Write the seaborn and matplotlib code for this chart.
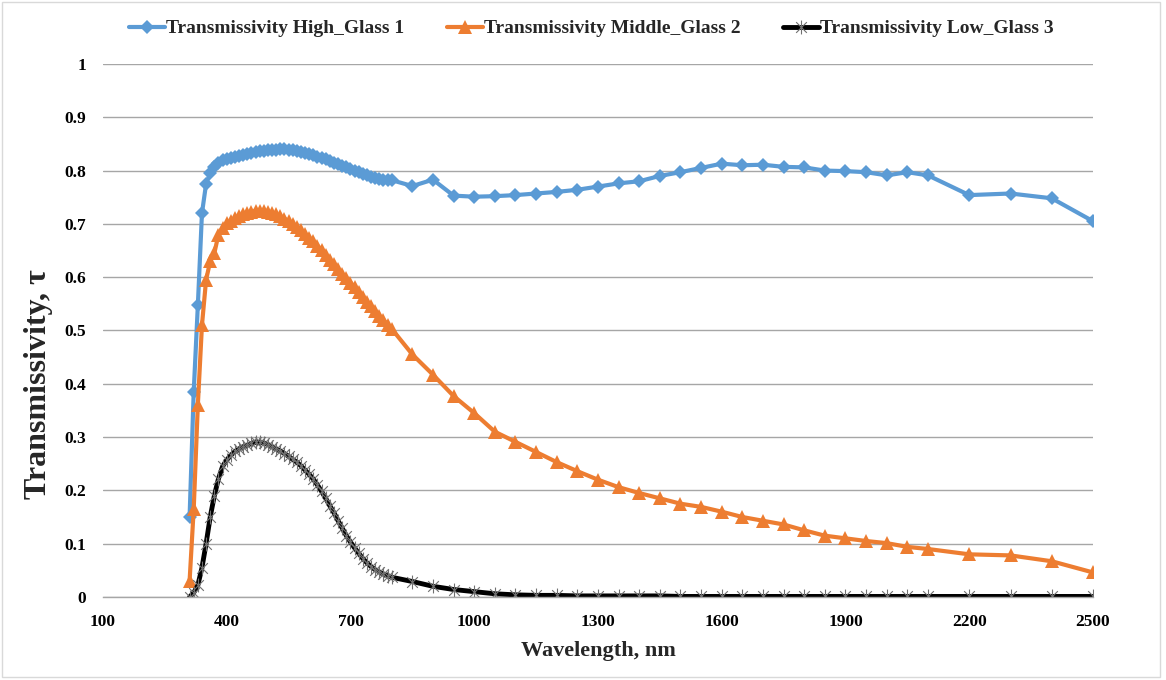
import matplotlib
matplotlib.use("Agg")
import matplotlib.pyplot as plt
from matplotlib.path import Path
from matplotlib.patches import Rectangle
import seaborn as sns
import pandas as pd

# Wavelength sampling (nm)
wavelength = [
    310, 320, 330, 340, 350, 360, 370, 380, 390, 400,
    410, 420, 430, 440, 450, 460, 470, 480, 490, 500,
    510, 520, 530, 540, 550, 560, 570, 580, 590, 600,
    610, 620, 630, 640, 650, 660, 670, 680, 690, 700,
    710, 720, 730, 740, 750, 760, 770, 780, 790, 800,
    850, 900, 950, 1000, 1050, 1100, 1150, 1200, 1250, 1300,
    1350, 1400, 1450, 1500, 1550, 1600, 1650, 1700, 1750, 1800,
    1850, 1900, 1950, 2000, 2050, 2100, 2200, 2300, 2400, 2500,
]

tau_high = [
    0.150, 0.385, 0.547, 0.720, 0.775, 0.795, 0.806, 0.815, 0.820, 0.822,
    0.823, 0.825, 0.827, 0.829, 0.831, 0.833, 0.835, 0.836, 0.837, 0.838,
    0.839, 0.839, 0.840, 0.840, 0.839, 0.838, 0.837, 0.835, 0.833, 0.831,
    0.829, 0.826, 0.824, 0.821, 0.818, 0.815, 0.812, 0.809, 0.806, 0.803,
    0.800, 0.797, 0.794, 0.791, 0.788, 0.786, 0.784, 0.783, 0.782, 0.782,
    0.771, 0.783, 0.753, 0.751, 0.752, 0.754, 0.757, 0.760, 0.764, 0.770,
    0.776, 0.780, 0.790, 0.797, 0.805, 0.813, 0.810, 0.811, 0.807, 0.806,
    0.800, 0.799, 0.797, 0.791, 0.797, 0.791, 0.754, 0.757, 0.748, 0.705,
]

tau_middle = [
    0.030, 0.165, 0.360, 0.510, 0.595, 0.630, 0.645, 0.680, 0.693, 0.701,
    0.706, 0.711, 0.715, 0.718, 0.721, 0.723, 0.725, 0.725, 0.725, 0.723,
    0.721, 0.718, 0.714, 0.710, 0.705, 0.700, 0.694, 0.688, 0.681, 0.674,
    0.667, 0.659, 0.651, 0.642, 0.633, 0.624, 0.615, 0.606, 0.598, 0.590,
    0.581, 0.572, 0.563, 0.554, 0.546, 0.537, 0.528, 0.520, 0.511, 0.503,
    0.455, 0.417, 0.377, 0.345, 0.310, 0.291, 0.272, 0.253, 0.236, 0.220,
    0.206, 0.195, 0.185, 0.175, 0.169, 0.160, 0.150, 0.143, 0.136, 0.125,
    0.115, 0.110, 0.105, 0.101, 0.094, 0.090, 0.080, 0.078, 0.067, 0.046,
]

tau_low = [
    0.000, 0.008, 0.022, 0.055, 0.100, 0.150, 0.190, 0.222, 0.245, 0.257,
    0.266, 0.273, 0.278, 0.282, 0.285, 0.288, 0.290, 0.290, 0.289, 0.286,
    0.282, 0.278, 0.274, 0.269, 0.264, 0.258, 0.253, 0.246, 0.238, 0.230,
    0.221, 0.210, 0.198, 0.185, 0.171, 0.158, 0.143, 0.129, 0.115, 0.103,
    0.092, 0.082, 0.072, 0.064, 0.057, 0.051, 0.047, 0.043, 0.040, 0.037,
    0.029, 0.020, 0.014, 0.010, 0.006, 0.004, 0.003, 0.003, 0.002, 0.002,
    0.002, 0.002, 0.002, 0.001, 0.001, 0.001, 0.001, 0.001, 0.001, 0.001,
    0.001, 0.001, 0.001, 0.001, 0.001, 0.001, 0.001, 0.001, 0.001, 0.001,
]

series_names = [
    "Transmissivity High_Glass 1",
    "Transmissivity Middle_Glass 2",
    "Transmissivity Low_Glass 3",
]
x_ticks = [100, 400, 700, 1000, 1300, 1600, 1900, 2200, 2500]
y_ticks = [0, 0.1, 0.2, 0.3, 0.4, 0.5, 0.6, 0.7, 0.8, 0.9, 1]
y_tick_labels = ["0", "0.1", "0.2", "0.3", "0.4", "0.5", "0.6", "0.7", "0.8", "0.9", "1"]

sns.set_theme(style="white")
plt.rcParams["font.family"] = ["Liberation Serif", "DejaVu Serif"]
plt.rcParams["font.weight"] = "bold"

# asterisk marker: an X with a vertical stroke
star = Path(
    [(-1, -1), (1, 1), (-1, 1), (1, -1), (0, -1.3), (0, 1.3)],
    [Path.MOVETO, Path.LINETO, Path.MOVETO, Path.LINETO, Path.MOVETO, Path.LINETO],
)

fig = plt.figure(figsize=(11.66, 6.8), dpi=100)
ax = fig.add_axes([0.0883, 0.1221, 0.8491, 0.7838])

df = pd.DataFrame({
    "wl": wavelength,
    "high": tau_high,
    "middle": tau_middle,
    "low": tau_low,
})

sns.lineplot(data=df, x="wl", y="high", ax=ax, color="#5B9BD5", lw=3.0,
             marker="D", markersize=7.5, markeredgewidth=0, sort=False,
             estimator=None, label=series_names[0])
sns.lineplot(data=df, x="wl", y="middle", ax=ax, color="#ED7D31", lw=3.0,
             marker="^", markersize=9.5, markeredgewidth=0, sort=False,
             estimator=None, label=series_names[1])
sns.lineplot(data=df, x="wl", y="low", ax=ax, color="black", lw=3.5,
             marker=star, markersize=10, markeredgewidth=0.8,
             markeredgecolor="#707070", markerfacecolor="none", sort=False,
             estimator=None, label=series_names[2])

ax.set_xlim(100, 2500)
ax.set_ylim(0, 1)
ax.set_xticks(x_ticks)
ax.set_xticklabels([str(v) for v in x_ticks], fontsize=12.5, fontweight="bold")
ax.set_yticks(y_ticks)
ax.set_yticklabels(y_tick_labels, fontsize=12.5, fontweight="bold")
ax.tick_params(axis="x", length=0, pad=12, colors="black")
ax.tick_params(axis="y", length=0, pad=12, colors="black")

ax.grid(axis="y", color="#a6a6a6", lw=1)
ax.grid(axis="x", visible=False)
for side in ["left", "right", "top"]:
    ax.spines[side].set_visible(False)
ax.spines["bottom"].set_color("#a6a6a6")
ax.spines["bottom"].set_linewidth(1)

ax.set_xlabel("Wavelength, nm", fontsize=16, fontweight="bold", labelpad=8)
ax.set_ylabel("Transmissivity, τ", fontsize=23, fontweight="bold", labelpad=10)
ax.yaxis.set_label_coords(-0.05, 0.40)

handles, labels = ax.get_legend_handles_labels()
ax.get_legend().remove()
fig.legend(handles, labels, loc="center", bbox_to_anchor=(0.507, 0.958),
           ncol=3, frameon=False, handlelength=1.85,
           handletextpad=0.05, columnspacing=2.2,
           prop={"weight": "bold", "size": 14})

fig.patches.append(Rectangle((0.002, 0.004), 0.993, 0.993, transform=fig.transFigure,
                             fill=False, edgecolor="#d9d9d9", lw=1))

fig.savefig("out.png", dpi=100, facecolor="white")
